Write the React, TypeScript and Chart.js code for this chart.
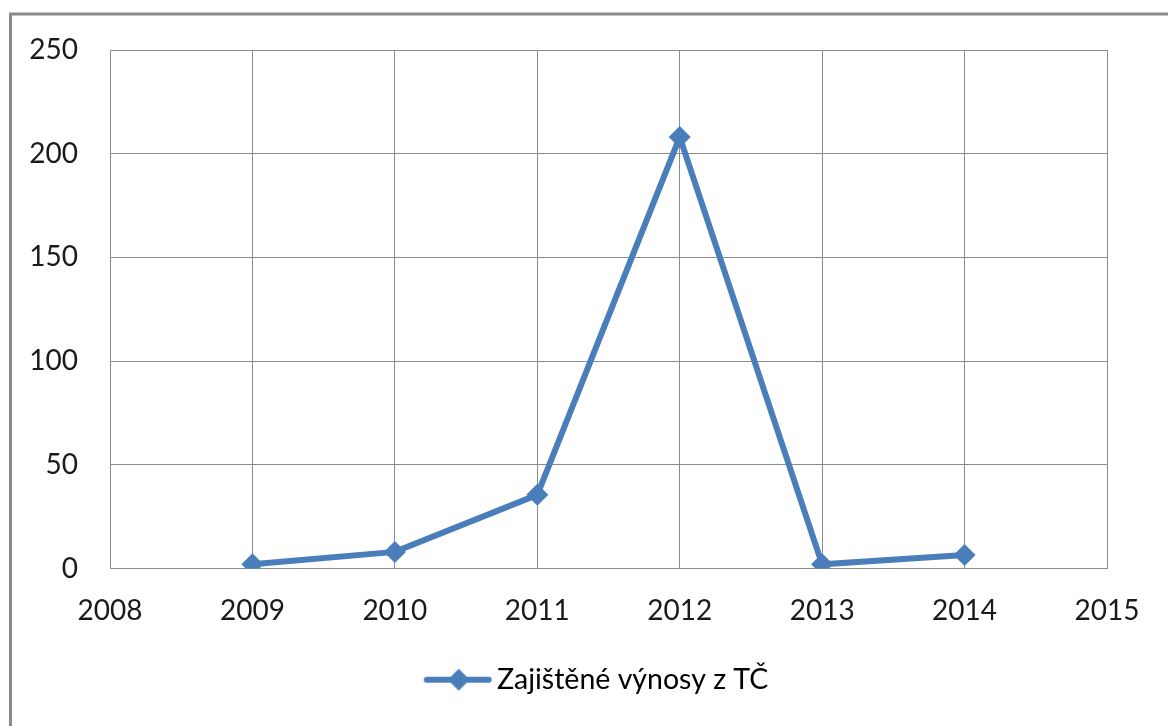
import React, { useEffect, useRef } from "react";
import { Chart, registerables } from "chart.js";

Chart.register(...registerables);

const years: number[] = [2009, 2010, 2011, 2012, 2013, 2014];
const values: number[] = [2, 8, 35.5, 208, 2, 6.5];
const seriesLabel = "Zajištěné výnosy z TČ";
const xTicks: number[] = [2008, 2009, 2010, 2011, 2012, 2013, 2014, 2015];
const yTicks: number[] = [0, 50, 100, 150, 200, 250];

const BLUE = "#4a7ebb";
const GRID = "#8c8c8c";
const FONT = "Lato, 'Open Sans', sans-serif";
const FS = 28;

function makeLegendIcon(): HTMLCanvasElement {
  // drawn wider than its legend box so the line sits close to the text
  const c = document.createElement("canvas");
  c.width = 90;
  c.height = 24;
  const ctx = c.getContext("2d")!;
  ctx.strokeStyle = BLUE;
  ctx.lineWidth = 6;
  ctx.lineCap = "round";
  ctx.beginPath();
  ctx.moveTo(24, 12);
  ctx.lineTo(86, 12);
  ctx.stroke();
  ctx.fillStyle = BLUE;
  ctx.beginPath();
  ctx.moveTo(56, 1);
  ctx.lineTo(67, 12);
  ctx.lineTo(56, 23);
  ctx.lineTo(45, 12);
  ctx.closePath();
  ctx.fill();
  return c;
}

const outerBorder = {
  id: "outerBorder",
  afterLayout(chart: any) {
    const lg = chart.legend;
    if (lg) {
      lg.left += 32;
      lg.right += 32;
    }
  },
  afterDraw(chart: any) {
    const ctx = chart.ctx;
    ctx.save();
    ctx.strokeStyle = "#8a8a8a";
    ctx.lineWidth = 3;
    ctx.strokeRect(10.5, 14, 1400, 1000);
    ctx.restore();
  },
};

export default function App() {
  const ref = useRef<HTMLCanvasElement>(null);
  useEffect(() => {
    const icon = makeLegendIcon();
    const chart = new Chart(ref.current!, {
      type: "line",
      data: {
        datasets: [
          {
            label: seriesLabel,
            data: years.map((x, i) => ({ x, y: values[i] })),
            borderColor: BLUE,
            backgroundColor: BLUE,
            borderWidth: 6,
            pointStyle: "rectRot",
            pointRadius: 11,
            pointBorderWidth: 0,
            pointBackgroundColor: BLUE,
            tension: 0,
          },
        ],
      },
      options: {
        responsive: false,
        animation: false,
        layout: { padding: { left: 10, top: 50, right: 61, bottom: 22 } },
        plugins: {
          tooltip: { enabled: false },
          legend: {
            position: "bottom",
            labels: {
              color: "#1a1a1a",
              font: { family: FONT, size: 28.5 },
              usePointStyle: true,
              pointStyleWidth: 70,
              padding: 10,
              generateLabels: () => [
                {
                  text: seriesLabel,
                  pointStyle: icon as any,
                  fillStyle: BLUE,
                  strokeStyle: BLUE,
                  lineWidth: 0,
                  hidden: false,
                  datasetIndex: 0,
                } as any,
              ],
            },
          },
        },
        scales: {
          x: {
            type: "linear",
            min: 2008,
            max: 2015,
            afterBuildTicks: (s: any) => {
              s.ticks = xTicks.map((v) => ({ value: v }));
            },
            afterFit: (s: any) => {
              s.height = 87;
            },
            ticks: {
              color: "#1a1a1a",
              font: { family: FONT, size: FS },
              padding: 26,
              maxRotation: 0,
              callback: (v: any) => String(v),
            },
            grid: { color: GRID, lineWidth: 1, drawTicks: false },
            border: { color: GRID, width: 1 },
          },
          y: {
            min: 0,
            max: 250,
            afterBuildTicks: (s: any) => {
              s.ticks = yTicks.map((v) => ({ value: v }));
            },
            afterFit: (s: any) => {
              s.width = 100;
            },
            ticks: {
              color: "#1a1a1a",
              font: { family: FONT, size: FS },
              padding: 32,
              callback: (v: any) => String(v),
            },
            grid: { color: GRID, lineWidth: 1, drawTicks: false },
            border: { color: GRID, width: 1 },
          },
          x2: {
            type: "linear",
            position: "top",
            display: true,
            min: 2008,
            max: 2015,
            ticks: { display: false },
            grid: { display: false, drawTicks: false },
            border: { color: GRID, width: 1 },
            afterFit: (s: any) => {
              s.height = 0;
            },
          },
          y2: {
            position: "right",
            display: true,
            min: 0,
            max: 250,
            ticks: { display: false },
            grid: { display: false, drawTicks: false },
            border: { color: GRID, width: 1 },
            afterFit: (s: any) => {
              s.width = 0;
            },
          },
        },
      },
      plugins: [outerBorder],
    });
    return () => chart.destroy();
  }, []);
  return (
    <div style={{ position: "fixed", left: 0, top: 0, width: 1168, height: 726, background: "#fff", overflow: "hidden" }}>
      <canvas ref={ref} width={1168} height={726} style={{ width: 1168, height: 726, display: "block" }} />
    </div>
  );
}
